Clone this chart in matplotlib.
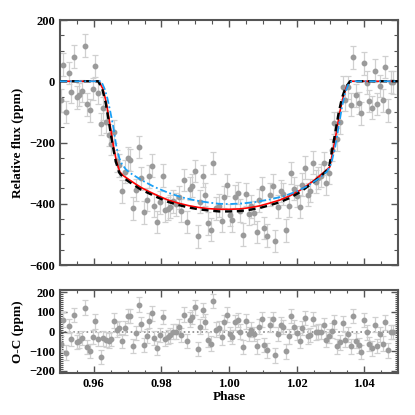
import numpy as np
import matplotlib
matplotlib.use('Agg')
import matplotlib.pyplot as plt
from matplotlib.ticker import MultipleLocator

plt.rcParams['font.family'] = ['Liberation Serif', 'DejaVu Serif']
plt.rcParams['font.weight'] = 'bold'
plt.rcParams['font.size'] = 9

# observed points (phase, relative flux in ppm, O-C in ppm)
phase = [0.95029, 0.95098, 0.95177, 0.95256, 0.95333, 0.95412, 0.95490, 0.95559, 0.95637, 0.95725,
         0.95804, 0.95882, 0.95971, 0.96039, 0.96118, 0.96206, 0.96284, 0.96363, 0.96441, 0.96520,
         0.96598, 0.96676, 0.96755, 0.96843, 0.96922, 0.97000, 0.97078, 0.97157, 0.97245, 0.97324,
         0.97402, 0.97480, 0.97559, 0.97637, 0.97716, 0.97794, 0.97873, 0.97961, 0.98039, 0.98118,
         0.98186, 0.98265, 0.98353, 0.98431, 0.98510, 0.98588, 0.98667, 0.98745, 0.98833, 0.98912,
         0.98990, 0.99069, 0.99147, 0.99225, 0.99304, 0.99382, 0.99461, 0.99539, 0.99618, 0.99696,
         0.99784, 0.99863, 0.99941, 1.00020, 1.00098, 1.00176, 1.00255, 1.00333, 1.00412, 1.00500,
         1.00578, 1.00657, 1.00735, 1.00814, 1.00892, 1.00971, 1.01049, 1.01127, 1.01216, 1.01294,
         1.01373, 1.01451, 1.01529, 1.01608, 1.01686, 1.01765, 1.01843, 1.01931, 1.02010, 1.02088,
         1.02167, 1.02245, 1.02324, 1.02402, 1.02490, 1.02569, 1.02647, 1.02725, 1.02804, 1.02882,
         1.02961, 1.03039, 1.03118, 1.03206, 1.03284, 1.03363, 1.03441, 1.03520, 1.03598, 1.03676,
         1.03755, 1.03833, 1.03912, 1.03990, 1.04069, 1.04147, 1.04225, 1.04314, 1.04392, 1.04471,
         1.04549, 1.04627, 1.04706, 1.04784, 1.04863]

flux = [-62, 54, -100, 27, -35, 80, -52, -44, -32, 116,
        -75, -95, -25, 50, -38, -140, -88, -132, -175, -205,
        -165, -260, -274, -359, -295, -252, -257, -415, -355, -215,
        -317, -428, -387, -310, -276, -406, -459, -395, -308, -421,
        -416, -409, -392, -402, -379, -423, -322, -459, -351, -341,
        -293, -506, -393, -309, -370, -464, -485, -267, -415, -406,
        -455, -378, -339, -437, -454, -377, -365, -423, -501, -369,
        -432, -408, -429, -492, -389, -350, -479, -504, -370, -341,
        -522, -409, -358, -368, -487, -407, -300, -351, -375, -409,
        -338, -282, -370, -357, -266, -328, -316, -308, -268, -333,
        -300, -225, -136, -190, -134, -20, -61, -20, -76, 78,
        -46, -71, -105, 59, -5, -64, -86, 35, -74, -15,
        -62, 47, -96, -2, -3]

resid = [-62, 61, -108, 27, -37, 84, -54, -46, -32, 122,
         -79, -100, -29, 52, -37, -130, -35, -42, -46, -39,
         56, 10, 19, -49, 19, 78, 78, -73, -7, 137,
         39, -68, -24, 56, 93, -34, -84, -17, 73, -37,
         -29, -20, 0, 0, 25, -17, 86, -49, 61, 73,
         123, -89, 25, 111, 51, -42, -62, 157, 10, 19,
         -30, 47, 86, -12, -29, 47, 59, 0, -79, 52,
         -12, 10, -12, -76, 25, 62, -69, -96, 35, 62,
         -122, -12, 35, 22, -101, -25, 78, 22, -7, -46,
         19, 69, -25, -19, 64, -5, 0, 0, 32, -41,
         -24, 5, 49, -76, -56, 41, -41, -15, -76, 78,
         -46, -71, -105, 59, -5, -64, -86, 35, -74, -15,
         -62, 47, -96, -2, -3]

err = 37

# model curves
black_phase = [0.950, 0.9613, 0.9625, 0.9635, 0.9645, 0.9655, 0.9665, 0.9675, 0.9685, 0.9700,
               0.9720, 0.9740, 0.9765, 0.9790, 0.9820, 0.9850, 0.9880, 0.9910, 0.9940, 0.9970,
               1.0000, 1.0030, 1.0060, 1.0090, 1.0120, 1.0150, 1.0180, 1.0210, 1.0240, 1.0265,
               1.0285, 1.0296, 1.0304, 1.0314, 1.0324, 1.0334, 1.0345, 1.0358, 1.050]
black_flux = [0, 0, -25, -70, -135, -205, -262, -298, -312, -325,
              -340, -354, -367, -380, -394, -404, -412, -418, -422, -425,
              -425, -424, -420, -414, -405, -395, -381, -362, -338, -316,
              -296, -282, -230, -170, -105, -55, -20, 0, 0]

red_phase = [0.950, 0.9615, 0.9627, 0.9637, 0.9647, 0.9657, 0.9667, 0.9677, 0.9687, 0.9700,
             0.9720, 0.9740, 0.9765, 0.9790, 0.9820, 0.9850, 0.9880, 0.9910, 0.9940, 0.9970,
             1.0000, 1.0030, 1.0060, 1.0090, 1.0120, 1.0150, 1.0180, 1.0210, 1.0240, 1.0265,
             1.0285, 1.0298, 1.0307, 1.0317, 1.0327, 1.0337, 1.0347, 1.0359, 1.050]
red_flux = [0, 0, -25, -70, -135, -205, -262, -296, -308, -318,
            -333, -347, -361, -374, -388, -398, -406, -412, -416, -418,
            -418, -417, -413, -407, -398, -388, -374, -356, -333, -312,
            -293, -280, -230, -170, -105, -55, -20, 0, 0]

blue_phase = [0.950, 0.9622, 0.9632, 0.9640, 0.9648, 0.9657, 0.9667, 0.9675, 0.9683, 0.9695,
              0.9711, 0.9740, 0.9779, 0.9820, 0.9860, 0.9900, 0.9940, 0.9970, 1.0000, 1.0040,
              1.0080, 1.0120, 1.0160, 1.0200, 1.0235, 1.0265, 1.0290, 1.0302, 1.0314, 1.0324,
              1.0334, 1.0344, 1.0354, 1.0363, 1.050]
blue_flux = [0, 0, -25, -55, -95, -145, -215, -250, -270, -288,
             -302, -322, -345, -364, -379, -389, -396, -400, -401, -399,
             -394, -386, -376, -360, -340, -318, -295, -270, -215, -150,
             -85, -35, -8, 0, 0]

spine_col = '#555555'
pt_col = '#9a9a9a'
bar_col = '#d0d0d0'


def style_axes(ax, yticks, yminor, ylim):
    ax.set_xticks([0.96, 0.98, 1.00, 1.02, 1.04])
    ax.xaxis.set_minor_locator(MultipleLocator(0.005))
    ax.set_xlim(0.95, 1.05)
    ax.set_yticks(yticks)
    ax.yaxis.set_minor_locator(MultipleLocator(yminor))
    ax.set_ylim(*ylim)
    ax.tick_params(which='both', direction='in', top=True, right=True, color=spine_col)
    ax.tick_params(which='major', length=5, width=1)
    ax.tick_params(which='minor', length=3, width=0.8)
    for s in ax.spines.values():
        s.set_color(spine_col)
        s.set_linewidth(1.5)


fig = plt.figure(figsize=(4.15, 4.15), dpi=100)
ax1 = fig.add_axes([0.1446, 0.3614, 0.8145, 0.5904])
ax2 = fig.add_axes([0.1446, 0.1012, 0.8145, 0.2])

# top panel: light curve with models
ax1.errorbar(phase, flux, yerr=err, fmt='o', ms=3.2, color=pt_col, ecolor=bar_col,
             elinewidth=0.9, capsize=2, capthick=0.9, zorder=2)
ax1.plot(red_phase, red_flux, color='red', lw=1.2, zorder=3)
ax1.plot(black_phase, black_flux, color='black', lw=1.7, ls=(0, (3, 2)), zorder=4)
ax1.plot(blue_phase, blue_flux, color='#1aa0f5', lw=1.3, ls=(0, (4, 1.5, 1, 1.5)), zorder=5)
style_axes(ax1, [-600, -400, -200, 0, 200], 50, (-600, 200))
ax1.set_xticklabels([])
ax1.set_ylabel('Relative flux (ppm)', fontsize=9.5, fontweight='bold')

# bottom panel: residuals
ax2.errorbar(phase, resid, yerr=err, fmt='o', ms=3.2, color=pt_col, ecolor=bar_col,
             elinewidth=0.9, capsize=2, capthick=0.9, zorder=2)
ax2.axhline(0, color='#888888', ls=':', lw=1.2, zorder=1)
style_axes(ax2, [-200, -100, 0, 100, 200], 10, (-212, 212))
ax2.tick_params(which='minor', length=2)
ax2.set_xticklabels(['0.96', '0.98', '1.00', '1.02', '1.04'])
ax2.set_ylabel('O-C (ppm)', fontsize=9.5, fontweight='bold')
ax2.set_xlabel('Phase', fontsize=9.5, fontweight='bold', labelpad=1)

fig.align_ylabels([ax1, ax2])
fig.savefig('out.png', dpi=100)
